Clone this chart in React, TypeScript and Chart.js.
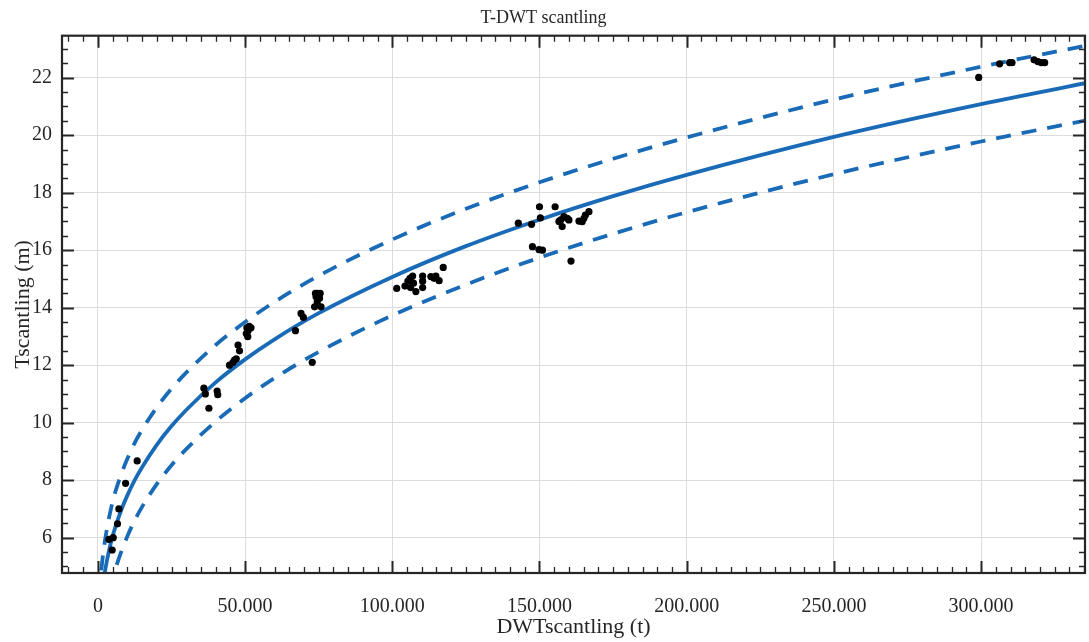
import React, { useEffect, useRef } from "react";
import { Chart, registerables } from "chart.js";

Chart.register(...registerables);

// Ship records: deadweight (t) and scantling draught (m)
const shipDwt = [
  3730, 5200, 4850, 6660, 7120, 9390, 13330,
  36000, 36500, 37700, 40500, 40700,
  44700, 45900, 46400, 47000, 47600, 48100,
  50600, 51400, 52000, 51000, 50400, 50900,
  67100, 69000, 69800, 72800,
  73600, 75800, 74100, 74700, 75300, 73900, 75500, 74500,
  101500, 104300, 105300, 106000, 106900, 107200, 106200, 108000,
  110300, 110300, 110300, 113100, 114200, 114800, 115900, 117300,
  142800, 147300, 150000, 150300, 155300, 157200, 158300, 159400,
  157700, 160000, 156600, 163400, 164500, 165100, 165600, 166800,
  147600, 149800, 151000, 160700,
  299200, 306300, 309700, 310500, 318000, 319300, 320500, 321600,
];
const shipT = [
  5.94, 6.0, 5.57, 6.48, 7.0, 7.89, 8.67,
  11.2, 11.0, 10.5, 11.1, 10.97,
  12.0, 12.1, 12.18, 12.22, 12.7, 12.5,
  13.3, 13.35, 13.3, 13.2, 13.1, 12.99,
  13.2, 13.8, 13.66, 12.1,
  14.03, 14.03, 14.38, 14.5, 14.33, 14.5, 14.5, 14.2,
  14.67, 14.75, 14.92, 15.02, 15.1, 14.85, 14.7, 14.56,
  15.1, 14.92, 14.7, 15.08, 15.02, 15.1, 14.94, 15.4,
  16.94, 16.9, 17.51, 17.12, 17.51, 17.05, 17.17, 17.11,
  16.82, 17.05, 17.0, 17.01, 16.99, 17.11, 17.22, 17.34,
  16.12, 16.02, 16.0, 15.62,
  22.01, 22.48, 22.52, 22.52, 22.62, 22.56, 22.52, 22.52,
];

// Regression curve and its band, sampled along DWT
const curveDwt = [
  500, 1000, 1500, 2000, 3000, 4000, 5000, 6000, 8000, 10000, 12500, 15000,
  20000, 25000, 30000, 40000, 50000, 60000, 75000, 100000, 125000, 150000,
  175000, 200000, 250000, 300000, 340000,
];
const fitT = [
  2.99, 3.7, 4.19, 4.57, 5.17, 5.65, 6.05, 6.39, 6.98, 7.47, 8.0, 8.45,
  9.23, 9.88, 10.44, 11.4, 12.2, 12.9, 13.81, 15.07, 16.14, 17.06,
  17.88, 18.62, 19.94, 21.08, 21.9,
];
const upperT = [
  3.95, 4.7, 5.2, 5.62, 6.27, 6.8, 7.25, 7.62, 8.23, 8.74, 9.3, 9.75,
  10.53, 11.18, 11.74, 12.7, 13.5, 14.2, 15.11, 16.37, 17.44, 18.36,
  19.18, 19.92, 21.24, 22.38, 23.2,
];
const lowerT = [
  1.49, 2.25, 2.74, 3.12, 3.72, 4.18, 4.58, 4.93, 5.53, 6.05, 6.6, 7.07,
  7.86, 8.52, 9.08, 10.04, 10.85, 11.55, 12.46, 13.73, 14.8, 15.74,
  16.57, 17.32, 18.64, 19.78, 20.6,
];

// Axis ticks
const xTicks = [0, 50000, 100000, 150000, 200000, 250000, 300000];
const yTicks = [6, 8, 10, 12, 14, 16, 18, 20, 22];
const xRange = [-12200, 335300];
const yRange = [4.77, 23.46];
const xMinorStep = 5000;
const yMinorStep = 0.5;

const BLUE = "#1a6bb7";
const INK = "#262626";
const SERIF = "'Liberation Serif', 'Times New Roman', serif";

const fmtThousands = (v: number) =>
  v === 0 ? "0" : String(Math.round(v)).replace(/\B(?=(\d{3})+(?!\d))/g, ".");

const pairs = (xs: number[], ys: number[]) => xs.map((x, i) => ({ x, y: ys[i] }));

// Boxed frame with inward major and minor ticks on all four sides
const frameTicks = {
  id: "frameTicks",
  afterDraw(chart: any) {
    const { ctx, chartArea: a, scales } = chart;
    const x = scales.x;
    const y = scales.y;
    ctx.save();
    ctx.strokeStyle = INK;
    ctx.lineCap = "butt";

    const drawX = (v: number, len: number) => {
      const px = Math.round(x.getPixelForValue(v)) + 0.5;
      ctx.beginPath();
      ctx.moveTo(px, a.bottom);
      ctx.lineTo(px, a.bottom - len);
      ctx.moveTo(px, a.top);
      ctx.lineTo(px, a.top + len);
      ctx.stroke();
    };
    const drawY = (v: number, len: number) => {
      const py = Math.round(y.getPixelForValue(v)) + 0.5;
      ctx.beginPath();
      ctx.moveTo(a.left, py);
      ctx.lineTo(a.left + len, py);
      ctx.moveTo(a.right, py);
      ctx.lineTo(a.right - len, py);
      ctx.stroke();
    };

    ctx.lineWidth = 1.3;
    for (let v = Math.ceil(xRange[0] / xMinorStep) * xMinorStep; v <= xRange[1]; v += xMinorStep) {
      if (!xTicks.includes(v)) drawX(v, 6);
    }
    for (let v = Math.ceil(yRange[0] / yMinorStep) * yMinorStep; v <= yRange[1]; v += yMinorStep) {
      if (!yTicks.includes(v)) drawY(v, 6);
    }
    ctx.lineWidth = 2;
    xTicks.forEach((v) => drawX(v, 12));
    yTicks.forEach((v) => drawY(v, 12));

    ctx.lineWidth = 2.2;
    ctx.strokeRect(a.left, a.top, a.right - a.left, a.bottom - a.top);
    ctx.restore();
  },
};

export default function App() {
  const canvasRef = useRef<HTMLCanvasElement | null>(null);

  useEffect(() => {
    const canvas = canvasRef.current;
    if (!canvas) return;

    const lineBase = {
      type: "line" as const,
      borderColor: BLUE,
      borderWidth: 3.8,
      pointRadius: 0,
      fill: false,
      cubicInterpolationMode: "monotone" as const,
      clip: 0,
      order: 2,
    };

    const chart = new Chart(canvas, {
      type: "scatter",
      data: {
        datasets: [
          {
            label: "Ships",
            data: pairs(shipDwt, shipT),
            backgroundColor: "#000",
            borderColor: "#000",
            pointRadius: 3.6,
            pointBorderWidth: 0,
            order: 1,
          },
          { ...lineBase, label: "Fit", data: pairs(curveDwt, fitT) },
          { ...lineBase, label: "Upper", data: pairs(curveDwt, upperT), borderDash: [15, 11] },
          { ...lineBase, label: "Lower", data: pairs(curveDwt, lowerT), borderDash: [15, 11] },
        ] as any,
      },
      options: {
        animation: false,
        responsive: false,
        devicePixelRatio: 1,
        layout: { padding: { left: 0, right: 2, top: 0, bottom: 0 } },
        plugins: {
          legend: { display: false },
          tooltip: { enabled: false },
          title: {
            display: true,
            text: "T-DWT scantling",
            color: INK,
            font: { family: SERIF, size: 18, weight: "normal" },
            padding: { top: 7, bottom: 7.1 },
          },
        },
        scales: {
          x: {
            type: "linear",
            min: xRange[0],
            max: xRange[1],
            afterBuildTicks: (s: any) => {
              s.ticks = xTicks.map((v) => ({ value: v }));
            },
            afterFit: (s: any) => {
              s.height = 69;
            },
            ticks: {
              color: INK,
              font: { family: SERIF, size: 20 },
              padding: 22,
              maxRotation: 0,
              callback: (v: any) => fmtThousands(Number(v)),
            },
            grid: { color: "#dcdcdc", lineWidth: 1, drawTicks: false },
            border: { display: false },
            title: {
              display: true,
              text: "DWTscantling (t)",
              color: INK,
              font: { family: SERIF, size: 22 },
              padding: { top: 0, bottom: 2 },
            },
          },
          y: {
            type: "linear",
            min: yRange[0],
            max: yRange[1],
            afterBuildTicks: (s: any) => {
              s.ticks = yTicks.map((v) => ({ value: v }));
            },
            afterFit: (s: any) => {
              s.width = 62;
            },
            ticks: {
              color: INK,
              font: { family: SERIF, size: 20 },
              padding: 10,
              callback: (v: any) => String(v),
            },
            grid: { color: "#dcdcdc", lineWidth: 1, drawTicks: false },
            border: { display: false },
            title: {
              display: true,
              text: "Tscantling (m)",
              color: INK,
              font: { family: SERIF, size: 22 },
              padding: { top: 10, bottom: 0 },
            },
          },
        },
      },
      plugins: [frameTicks],
    });

    return () => chart.destroy();
  }, []);

  return (
    <div style={{ position: "fixed", left: 0, top: 0, width: 1089, height: 642, background: "#fff" }}>
      <canvas ref={canvasRef} width={1089} height={642} style={{ display: "block" }} />
    </div>
  );
}
